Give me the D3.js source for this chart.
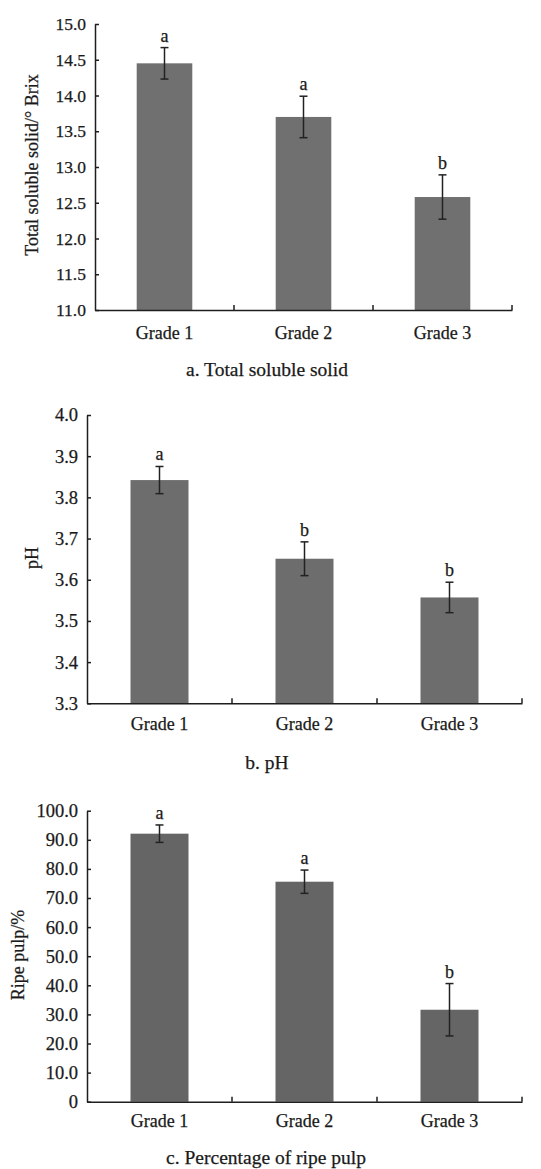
<!DOCTYPE html>
<html><head><meta charset="utf-8">
<script src="https://cdn.jsdelivr.net/npm/d3@7"></script>
<style>
html,body{margin:0;padding:0;background:#fff;}
svg{display:block;font-family:"Liberation Serif","Times New Roman",serif;}
svg text{stroke:#1a1a1a;stroke-width:0.25px;}
</style></head>
<body>
<svg id="chart" width="541" height="1169"></svg>
<script>
// ---- data ----
const categories = ["Grade 1", "Grade 2", "Grade 3"];

const tssMean = [14.45, 13.70, 12.58];
const tssErr  = [0.22, 0.29, 0.31];
const tssLetters = ["a", "a", "b"];
const tssTicks = [11.0, 11.5, 12.0, 12.5, 13.0, 13.5, 14.0, 14.5, 15.0];

const phMean = [3.842, 3.651, 3.557];
const phErr  = [0.033, 0.041, 0.037];
const phLetters = ["a", "b", "b"];
const phTicks = [3.3, 3.4, 3.5, 3.6, 3.7, 3.8, 3.9, 4.0];

const pulpMean = [92.1, 75.6, 31.6];
const pulpErr  = [3.0, 4.0, 9.0];
const pulpLetters = ["a", "a", "b"];
const pulpTicks = [0, 10, 20, 30, 40, 50, 60, 70, 80, 90, 100];

const titles = ["Total soluble solid/° Brix", "pH", "Ripe pulp/%"];
const captions = ["a. Total soluble solid", "b. pH", "c. Percentage of ripe pulp"];

// ---- layout ----
const panels = [
  {mean: tssMean, err: tssErr, letters: tssLetters, ticks: tssTicks, domain: [11, 15],
   fmt: d => d.toFixed(1), x0: 95, x1: 512, yTop: 24, yBot: 310, fill: "#707070",
   title: titles[0], titleX: 32, titleY: 165, caption: captions[0], capY: 376, capX: 267,
   tickFont: 17.5, labY: 22},
  {mean: phMean, err: phErr, letters: phLetters, ticks: phTicks, domain: [3.3, 4.0],
   fmt: d => d.toFixed(1), x0: 87, x1: 522, yTop: 415, yBot: 703.3, fill: "#6d6d6d",
   title: titles[1], titleX: 32, titleY: 558, caption: captions[1], capY: 769, capX: 267,
   tickFont: 18.5, labY: 20},
  {mean: pulpMean, err: pulpErr, letters: pulpLetters, ticks: pulpTicks, domain: [0, 100],
   fmt: d => d === 0 ? "0" : d.toFixed(1), x0: 87, x1: 522, yTop: 810.7, yBot: 1101.7, fill: "#656565",
   title: titles[2], titleX: 18, titleY: 955, caption: captions[2], capY: 1164, capX: 266,
   tickFont: 18.5, labY: 19}
];

const svg = d3.select("#chart");
const axisColor = "#1e1e1e";
const textColor = "#1a1a1a";

panels.forEach(p => {
  const g = svg.append("g");
  const x = d3.scaleBand().domain(categories).range([p.x0, p.x1])
    .paddingInner(0.6).paddingOuter(0.3);
  const y = d3.scaleLinear().domain(p.domain).range([p.yBot, p.yTop]);
  const step = x.step();

  // bars
  g.selectAll("rect.bar").data(categories).enter().append("rect")
    .attr("x", d => x(d)).attr("width", x.bandwidth())
    .attr("y", (d, i) => y(p.mean[i]))
    .attr("height", (d, i) => y(p.domain[0]) - y(p.mean[i]))
    .attr("fill", p.fill);

  // error bars
  const eb = g.selectAll("g.eb").data(categories).enter().append("g")
    .attr("stroke", "#222").attr("stroke-width", 1.5);
  eb.append("line")
    .attr("x1", d => x(d) + x.bandwidth() / 2).attr("x2", d => x(d) + x.bandwidth() / 2)
    .attr("y1", (d, i) => y(p.mean[i] + p.err[i])).attr("y2", (d, i) => y(p.mean[i] - p.err[i]));
  [1, -1].forEach(s => {
    eb.append("line")
      .attr("x1", d => x(d) + x.bandwidth() / 2 - 4).attr("x2", d => x(d) + x.bandwidth() / 2 + 4)
      .attr("y1", (d, i) => y(p.mean[i] + s * p.err[i])).attr("y2", (d, i) => y(p.mean[i] + s * p.err[i]));
  });

  // letters
  g.selectAll("text.letter").data(categories).enter().append("text")
    .attr("x", d => x(d) + x.bandwidth() / 2)
    .attr("y", (d, i) => y(p.mean[i] + p.err[i]) - 6)
    .attr("text-anchor", "middle").attr("font-size", 18).attr("fill", textColor)
    .text((d, i) => p.letters[i]);

  // y axis
  const yAxis = d3.axisLeft(y).tickValues(p.ticks).tickFormat(p.fmt)
    .tickSizeInner(-4).tickSizeOuter(0).tickPadding(9);
  const ya = g.append("g").attr("transform", `translate(${p.x0},0)`).call(yAxis);
  ya.select(".domain").attr("stroke", axisColor).attr("stroke-width", 1.5);
  ya.selectAll(".tick line").attr("stroke", axisColor).attr("stroke-width", 1.5);
  ya.selectAll(".tick text").attr("fill", textColor).attr("font-size", p.tickFont)
    .attr("font-family", "Liberation Serif, serif");

  // x axis
  const xAxis = d3.axisBottom(x).tickSize(0).tickPadding(p.labY - 6);
  const xa = g.append("g").attr("transform", `translate(0,${p.yBot})`).call(xAxis);
  xa.select(".domain").attr("stroke", axisColor).attr("stroke-width", 1.5);
  xa.selectAll(".tick text").attr("fill", textColor).attr("font-size", 18)
    .attr("font-family", "Liberation Serif, serif");
  // category boundary ticks (pointing up)
  xa.selectAll("line.sep").data(categories).enter().append("line")
    .attr("x1", d => x(d) - x.paddingOuter() * step + step)
    .attr("x2", d => x(d) - x.paddingOuter() * step + step)
    .attr("y1", 0).attr("y2", -5)
    .attr("stroke", axisColor).attr("stroke-width", 1.5);

  // y title
  g.append("text")
    .attr("transform", `translate(${p.titleX},${p.titleY}) rotate(-90)`)
    .attr("text-anchor", "middle").attr("dominant-baseline", "central")
    .attr("font-size", 18).attr("fill", textColor).text(p.title);

  // caption
  g.append("text").attr("x", p.capX).attr("y", p.capY)
    .attr("text-anchor", "middle").attr("font-size", 19.5).attr("fill", textColor)
    .text(p.caption);
});
</script>
</body></html>
